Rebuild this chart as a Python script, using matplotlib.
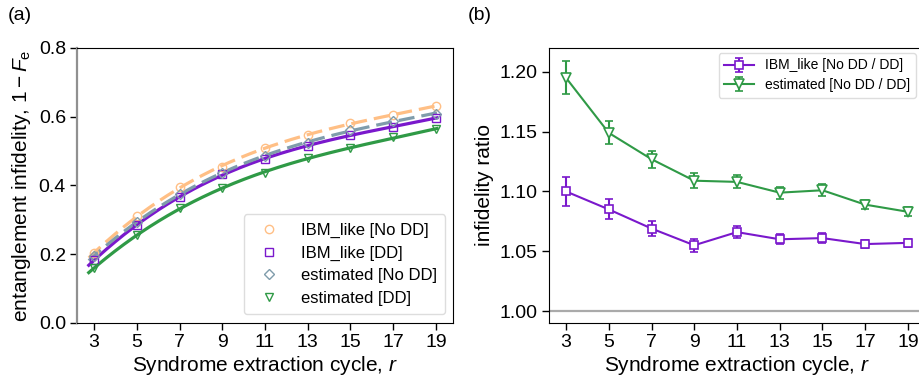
import numpy as np
import matplotlib
matplotlib.use("Agg")
import matplotlib.pyplot as plt

plt.rcParams['font.family'] = ['Liberation Sans', 'DejaVu Sans']
plt.rcParams['mathtext.fontset'] = 'custom'
plt.rcParams['mathtext.rm'] = 'Liberation Sans'
plt.rcParams['mathtext.it'] = 'Liberation Sans:italic'
plt.rcParams['mathtext.bf'] = 'Liberation Sans:bold'

cycles = [3, 5, 7, 9, 11, 13, 15, 17, 19]

# panel (a): entanglement infidelity
ibm_nodd = [0.203, 0.311, 0.395, 0.455, 0.508, 0.546, 0.583, 0.605, 0.631]
ibm_dd = [0.183, 0.284, 0.367, 0.433, 0.476, 0.515, 0.547, 0.571, 0.596]
est_nodd = [0.194, 0.295, 0.376, 0.436, 0.486, 0.524, 0.561, 0.588, 0.609]
est_dd = [0.159, 0.256, 0.334, 0.392, 0.437, 0.479, 0.508, 0.542, 0.563]

# panel (b): infidelity ratio No DD / DD
ratio_ibm = [1.100, 1.085, 1.069, 1.055, 1.066, 1.060, 1.061, 1.056, 1.057]
ratio_ibm_err = [0.0125, 0.0083, 0.0064, 0.0056, 0.0047, 0.0043, 0.0039, 0.0035, 0.0032]
ratio_est = [1.195, 1.149, 1.127, 1.109, 1.108, 1.099, 1.101, 1.089, 1.083]
ratio_est_err = [0.0139, 0.0096, 0.0072, 0.0061, 0.0054, 0.0051, 0.0049, 0.0040, 0.0039]

c_orange = '#ffbf85'
c_purple = '#7a18cc'
c_grey = '#7f9cab'
c_green = '#2f9a46'

fig = plt.figure(figsize=(9.2, 3.79), dpi=100)
ax1 = fig.add_axes([0.0837, 0.1478, 0.4087, 0.7256])
ax2 = fig.add_axes([0.5967, 0.1478, 0.4087, 0.7256])

x = np.array(cycles)
xs = np.linspace(2.75, 19.05, 200)

series = [
    (ibm_nodd, c_orange, 'o', '--', 'IBM_like [No DD]'),
    (ibm_dd, c_purple, 's', '-', 'IBM_like [DD]'),
    (est_nodd, c_grey, 'D', '--', 'estimated [No DD]'),
    (est_dd, c_green, 'v', '-', 'estimated [DD]'),
]
handles = []
for vals, col, mk, ls, lab in series:
    coef = np.polyfit(x, vals, 3)
    ax1.plot(xs, np.polyval(coef, xs), color=col, ls=ls, lw=2.3, zorder=2,
             dashes=(5, 2.2) if ls == '--' else (None, None))
    ms = 5 if mk == 'D' else 6
    h, = ax1.plot(x, vals, ls='none', marker=mk, ms=ms, mfc='none', mec=col,
                  mew=1.0, label=lab, zorder=3)
    handles.append(h)

ax1.set_xlim(2.2, 19.8)
ax1.set_ylim(0, 0.8)
ax1.set_xticks(cycles)
ax1.set_yticks([0.0, 0.2, 0.4, 0.6, 0.8])
ax1.set_yticklabels(['0.0', '0.2', '0.4', '0.6', '0.8'])
ax1.spines['left'].set_color('#909090')
ax1.spines['left'].set_linewidth(1.6)
ax1.set_xlabel('Syndrome extraction cycle, $r$', fontsize=15, labelpad=2)
ax1.set_ylabel('entanglement infidelity, $1 - F_\\mathrm{e}$', fontsize=15, labelpad=4)
ax1.legend(handles=handles, loc='lower right', fontsize=12, handletextpad=0.9,
           borderpad=0.5, labelspacing=0.45, bbox_to_anchor=(0.979, 0.033),
           borderaxespad=0, framealpha=1, edgecolor='#dddddd')
fig.text(0.008, 0.958, '(a)', fontsize=14, va='center')

ax2.axhline(1.0, color='#aaaaaa', lw=1.6, zorder=1)
ax2.errorbar(x, ratio_ibm, yerr=ratio_ibm_err, color=c_purple, marker='s', ms=6,
             mfc='white', mec=c_purple, mew=1.2, lw=1.5, capsize=3,
             label='IBM_like [No DD / DD]', zorder=3)
ax2.errorbar(x, ratio_est, yerr=ratio_est_err, color=c_green, marker='v', ms=6.5,
             mfc='white', mec=c_green, mew=1.2, lw=1.5, capsize=3,
             label='estimated [No DD / DD]', zorder=3)
ax2.set_xlim(2.2, 19.8)
ax2.set_ylim(0.99, 1.22)
ax2.set_xticks(cycles)
ax2.set_yticks([1.00, 1.05, 1.10, 1.15, 1.20])
ax2.set_yticklabels(['1.00', '1.05', '1.10', '1.15', '1.20'])
ax2.set_xlabel('Syndrome extraction cycle, $r$', fontsize=15, labelpad=2)
ax2.set_ylabel('infidelity ratio', fontsize=15, labelpad=4)
ax2.legend(loc='upper left', bbox_to_anchor=(0.451, 0.982), borderaxespad=0,
           fontsize=10, handlelength=2.15, handletextpad=0.8, borderpad=0.4,
           labelspacing=0.4, framealpha=1, edgecolor='#dddddd')
fig.text(0.508, 0.958, '(b)', fontsize=14, va='center')

for ax in (ax1, ax2):
    ax.tick_params(direction='out', length=5, width=1, labelsize=14, pad=3)

fig.savefig('out.png', dpi=100)
